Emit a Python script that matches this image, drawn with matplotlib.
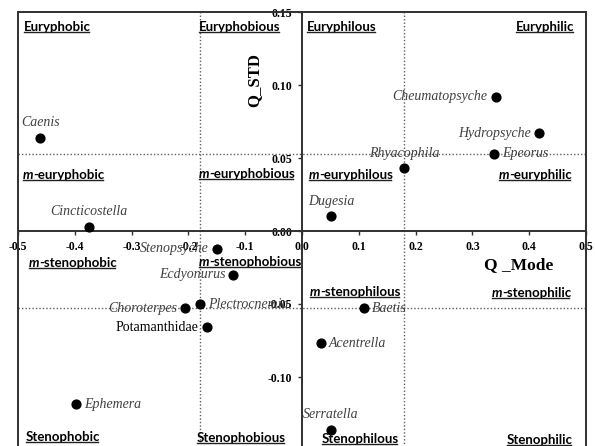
import matplotlib
matplotlib.use("Agg")
import matplotlib.pyplot as plt
from matplotlib.lines import Line2D

# species points (Q_Mode, Q_STD)
species = ["Caenis", "Cincticostella", "Cheumatopsyche", "Hydropsyche", "Epeorus",
           "Rhyacophila", "Dugesia", "Stenopsyche", "Ecdyonurus", "Choroterpes",
           "Plectrocnemia", "Potamanthidae", "Ephemera", "Baetis", "Acentrella",
           "Serratella"]
q_mode = [-0.461, -0.375, 0.341, 0.417, 0.338, 0.180, 0.051, -0.150, -0.121, -0.206,
          -0.180, -0.168, -0.398, 0.109, 0.033, 0.051]
q_std = [0.064, 0.003, 0.092, 0.067, 0.053, 0.043, 0.010, -0.012, -0.030, -0.053,
         -0.050, -0.066, -0.1185, -0.053, -0.077, -0.136]
# where the name sits relative to its point
label_side = ["top", "top", "left", "left", "right", "top", "top", "left", "left", "left",
              "right", "left", "right", "right", "right", "top"]

x_ticks = [-0.5, -0.4, -0.3, -0.2, -0.1, 0.0, 0.1, 0.2, 0.3, 0.4, 0.5]
y_ticks = [-0.10, -0.05, 0.00, 0.05, 0.10, 0.15]
x_split = [-0.18, 0.18]
y_split = [-0.053, 0.053]

# quadrant names: (italic prefix, rest, x, y)
zones = [("", "Euryphobic", -0.489, 0.1397), ("", "Euryphobious", -0.181, 0.1397),
         ("", "Euryphilous", 0.009, 0.1397), ("", "Euryphilic", 0.377, 0.1397),
         ("m", "-euryphobic", -0.491, 0.0384), ("m", "-euryphobious", -0.181, 0.039),
         ("m", "-euryphilous", 0.012, 0.0384), ("m", "-euryphilic", 0.347, 0.0384),
         ("m", "-stenophobic", -0.481, -0.0219), ("m", "-stenophobious", -0.181, -0.0212),
         ("m", "-stenophilous", 0.014, -0.0418), ("m", "-stenophilic", 0.334, -0.0425),
         ("", "Stenophobic", -0.486, -0.141), ("", "Stenophobious", -0.185, -0.1418),
         ("", "Stenophilous", 0.035, -0.1425), ("", "Stenophilic", 0.361, -0.143)]

W, H = 595, 446
fig = plt.figure(figsize=(W / 100, H / 100), dpi=100)
ax = fig.add_axes([18 / W, 1 - 450 / H, 568 / W, 438 / H])
ax.set_xlim(-0.5, 0.5)
ax.set_ylim(-0.15, 0.15)

axcol = "#303030"
ax.spines["left"].set_position(("data", 0))
ax.spines["bottom"].set_position(("data", 0))
for s in ax.spines.values():
    s.set_color(axcol)
    s.set_linewidth(1.4)
# outer frame left edge
ax.plot([0, 0], [0, 1], transform=ax.transAxes, color=axcol, lw=1.4, clip_on=False)

serif = ["Liberation Serif", "DejaVu Serif"]
ax.set_xticks(x_ticks)
ax.set_yticks(y_ticks)
ax.set_xticklabels(["%.1f" % v for v in x_ticks], fontfamily=serif, fontweight="bold", fontsize=8.5)
ax.set_yticklabels(["%.2f" % v for v in y_ticks], fontfamily=serif, fontweight="bold", fontsize=8.5)
ax.tick_params(direction="out", length=3, width=1, color=axcol, pad=4)

for xv in x_split:
    ax.axvline(xv, color="#606060", lw=1.0, ls=(0, (1, 1.5)), zorder=1)
for yv in y_split:
    ax.axhline(yv, color="#606060", lw=1.0, ls=(0, (1, 1.5)), zorder=1)

ax.scatter(q_mode, q_std, s=40, color="black", zorder=3)

offs = {"top": ((0, 15), "center"), "left": ((-8, 0), "right"), "right": ((8, 0), "left")}
for name, x, y, side in zip(species, q_mode, q_std, label_side):
    off, ha = offs[side]
    style = "normal" if name == "Potamanthidae" else "italic"
    col = "black" if name == "Potamanthidae" else "#404040"
    ax.annotate(name, (x, y), xytext=off, textcoords="offset pixels", ha=ha, va="center",
                fontfamily=serif, fontstyle=style, fontsize=10, color=col, zorder=4)

ax.text(-0.0845, 0.1034, "Q_STD", rotation=90, ha="center", va="center",
        fontfamily=serif, fontweight="bold", fontsize=12)
ax.text(0.382, -0.0233, "Q _Mode", ha="center", va="center",
        fontfamily=serif, fontweight="bold", fontsize=12.5)

sans = ["Lato", "DejaVu Sans"]
groups = []
for pre, rest, x, y in zones:
    if pre:
        t1 = ax.text(x, y, pre, ha="left", va="center", fontfamily=sans,
                     fontweight="bold", fontstyle="italic", fontsize=9.5)
        t2 = ax.annotate(rest, xy=(1, 0), xycoords=t1, ha="left", va="bottom",
                         fontfamily=sans, fontweight="bold", fontsize=9.5)
        grp = [t1, t2]
    else:
        grp = [ax.text(x, y, rest, ha="left", va="center", fontfamily=sans,
                       fontweight="bold", fontsize=9.5)]
    groups.append(grp)

# underline the zone names
fig.canvas.draw()
r = fig.canvas.get_renderer()
for grp in groups:
    bbs = [t.get_window_extent(r) for t in grp]
    x0 = min(b.x0 for b in bbs)
    x1 = max(b.x1 for b in bbs) - 2
    y0 = min(b.y0 for b in bbs) + 1
    fig.add_artist(Line2D([x0 / W, x1 / W], [y0 / H, y0 / H], transform=fig.transFigure,
                          color="#202020", lw=1.0))

fig.savefig("out.png", dpi=100)
